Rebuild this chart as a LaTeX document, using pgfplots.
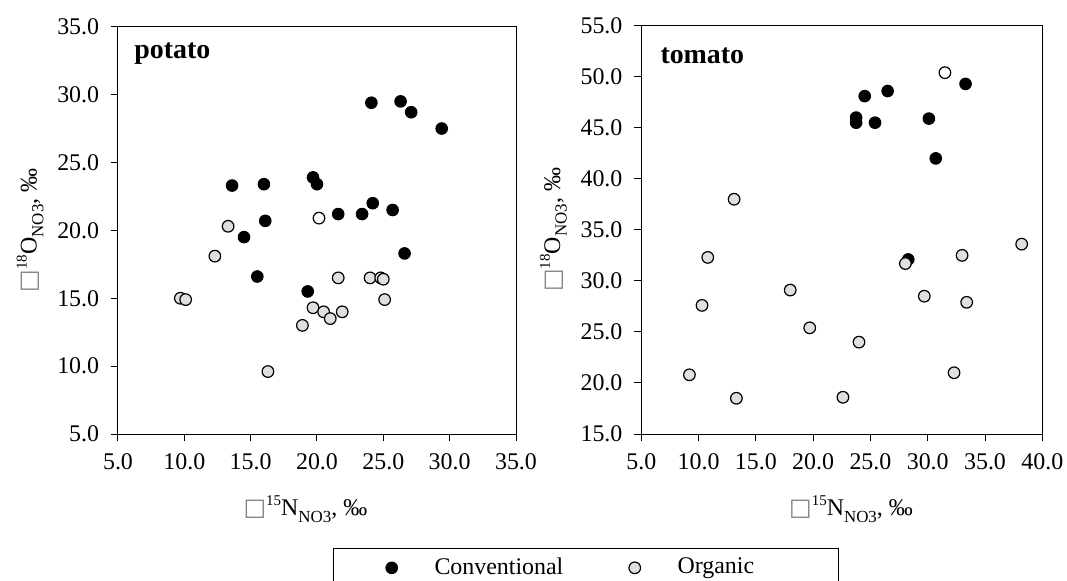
\documentclass[border=0pt]{standalone}
\usepackage{fontspec}
\setmainfont{Liberation Serif}
\newfontfamily\dejavu{DejaVu Sans}
\usepackage{pgfplots}
\pgfplotsset{compat=1.18}

% the delta of the original shows as a missing-glyph box
\newcommand{\sq}{{\color{gray}\dejavu\fontsize{12}{12}\selectfont □}}
\newcommand{\sups}[1]{\raisebox{0.42em}{\fontsize{7.5}{8}\selectfont #1}}
\newcommand{\subs}[1]{\raisebox{-0.28em}{\fontsize{8.5}{9}\selectfont #1}}

\pgfplotsset{
  panel/.style={
    scale only axis,
    tick align=outside,
    xtick pos=bottom, ytick pos=left,
    major tick length=3.5bp,
    tick style={black, line width=0.5bp},
    axis line style={line width=0.5bp},
    /pgf/number format/.cd, fixed, fixed zerofill, precision=1, assume math mode=true,
    /pgfplots/.cd,
    tick label style={font=\fontsize{12}{14}\selectfont},
    xticklabel style={inner sep=0pt, anchor=north, yshift=-6bp},
    yticklabel style={inner sep=0pt, anchor=east, xshift=-5.75bp},
    label style={font=\fontsize{12}{14}\selectfont},
  },
  conv/.style={only marks, mark=*, mark size=2.9bp,
    mark options={fill=black, draw=black, line width=0.5bp}},
  org/.style={only marks, mark=*, mark size=2.9bp,
    mark options={fill=gray!25, draw=black, line width=0.6bp}},
  open/.style={only marks, mark=*, mark size=2.9bp,
    mark options={fill=white, draw=black, line width=0.6bp}},
}

\begin{document}
\begin{tikzpicture}

% ---------------- potato ----------------
\begin{axis}[panel,
    at={(0,0)}, anchor=south west,
    width=199bp, height=203.65bp,
    xmin=5, xmax=35, ymin=5, ymax=35,
    xtick={5,10,...,35}, ytick={5,10,...,35},
    xlabel={\sq\sups{15}N\subs{NO3}, ‰},
    ylabel={\sq\sups{18}O\subs{NO3}, ‰},
    xlabel style={at={(axis description cs:0.471,-0.2006)}, anchor=base},
    ylabel style={at={(axis description cs:-0.2043,0.5)}, anchor=base},
    legend columns=2,
    legend image code/.code={\draw[#1] plot coordinates {(0bp,0bp)};},
    legend style={at={(axis description cs:0.540,-0.280)}, anchor=north west,
      draw=black, line width=0.5bp, inner xsep=26.25bp, inner ysep=4.5bp,
      font=\fontsize{12}{14}\selectfont,
      nodes={inner sep=0pt, text depth=2bp},
      /tikz/every odd column/.append style={column sep=18.5bp},
      /tikz/every even column/.append style={column sep=32.8bp}},
    legend cell align=left,
  ]
  \addplot[conv] coordinates {
    (24.1,29.4) (26.3,29.5) (27.1,28.7) (29.4,27.5)
    (13.6,23.3) (16.0,23.4) (19.7,23.9) (20.0,23.4)
    (16.1,20.7) (14.5,19.5) (21.6,21.2) (23.4,21.2)
    (24.2,22.0) (25.7,21.5) (26.6,18.3) (15.5,16.6) (19.3,15.5)
  };
  \addlegendentry{Conventional}
  \addplot[org] coordinates {
    (13.3,20.3) (12.3,18.1) (9.7,15.0) (10.1,14.9)
    (21.6,16.5) (24.0,16.5) (24.8,16.5) (25.0,16.4) (25.1,14.9)
    (19.7,14.3) (20.5,14.0) (21.0,13.5) (21.9,14.0) (18.9,13.0) (16.3,9.6)
  };
  \addlegendentry{Organic\hspace*{15.8bp}}
  \addplot[open, forget plot] coordinates {(20.15,20.9)};
  \node[anchor=north west, inner sep=0pt, font=\bfseries\fontsize{14}{16}\selectfont]
    at ([xshift=8bp,yshift=-8bp]rel axis cs:0,1) {potato};
\end{axis}

% ---------------- tomato ----------------
\begin{axis}[panel,
    at={(261.65bp,0)}, anchor=south west,
    width=200.5bp, height=204.15bp,
    xmin=5, xmax=40, ymin=15, ymax=55,
    xtick={5,10,...,40}, ytick={15,20,...,55},
    xlabel={\sq\sups{15}N\subs{NO3}, ‰},
    ylabel={\sq\sups{18}O\subs{NO3}, ‰},
    xlabel style={at={(axis description cs:0.523,-0.2001)}, anchor=base},
    ylabel style={at={(axis description cs:-0.2027,0.5)}, anchor=base},
  ]
  \addplot[conv] coordinates {
    (24.5,48.1) (26.5,48.6) (23.75,46.0) (23.75,45.5) (25.4,45.5)
    (30.1,45.9) (30.7,42.0) (33.3,49.3) (28.3,32.1)
  };
  \addplot[org] coordinates {
    (13.1,38.0) (10.8,32.3) (28.05,31.7) (33.0,32.5) (38.2,33.6)
    (18.0,29.1) (10.3,27.6) (29.7,28.5) (33.4,27.9) (19.7,25.4)
    (24.0,24.0) (9.2,20.8) (32.3,21.0) (13.3,18.5) (22.6,18.6)
  };
  \addplot[open] coordinates {(31.5,50.4)};
  \node[anchor=north west, inner sep=0pt, font=\bfseries\fontsize{14}{16}\selectfont]
    at ([xshift=9.4bp,yshift=-11bp]rel axis cs:0,1) {tomato};
\end{axis}

\pgfresetboundingbox
\useasboundingbox (-59bp,-73.5bp) rectangle (474.5bp,217bp);
\end{tikzpicture}
\end{document}
